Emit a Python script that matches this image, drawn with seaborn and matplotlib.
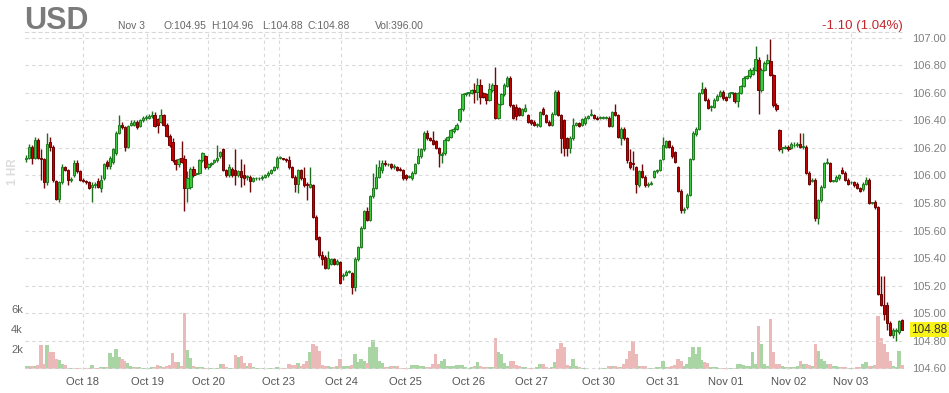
import numpy as np
import pandas as pd
import matplotlib
matplotlib.use("Agg")
import matplotlib.pyplot as plt
import seaborn as sns

# ---------------- data (hourly candles, USD index) ----------------
opens = [
    106.12, 106.13, 106.21, 106.13, 106.26, 106.13, 106.12, 105.95, 106.24, 106.21,
    105.96, 105.83, 105.95, 106.06, 106.04, 105.97, 106.00, 106.09, 106.03, 105.97,
    105.96, 105.95, 105.92, 105.93, 105.96, 105.91, 105.98, 106.10, 106.07, 106.10,
    106.16, 106.31, 106.37, 106.35, 106.21, 106.37, 106.37, 106.39, 106.36, 106.40,
    106.42, 106.42, 106.43, 106.44, 106.41, 106.39, 106.44, 106.37, 106.29, 106.24,
    106.11, 106.08, 106.13, 106.12, 105.91, 105.92, 106.05, 106.01, 106.02, 106.11,
    106.14, 106.06, 106.08, 106.10, 106.11,
    106.14, 106.19, 106.04, 106.00, 106.05, 106.04, 106.00, 106.03, 106.00, 105.99,
    105.99, 105.96, 105.98, 105.98, 105.98, 105.99, 106.00, 106.02, 106.04, 106.06,
    106.13, 106.13, 106.12, 106.11, 106.06, 105.99, 105.94, 106.04, 105.98, 105.94, 105.92, 105.93, 105.70,
    105.55, 105.42, 105.41, 105.33, 105.36, 105.39, 105.36, 105.37, 105.27, 105.28, 105.30, 105.29,
    105.19, 105.39, 105.48, 105.62, 105.74, 105.68, 105.85, 105.91, 105.99, 106.04,
    106.09, 106.08, 106.08, 106.06, 106.06, 106.05, 106.04, 106.00, 105.99, 105.98,
    106.02, 106.09, 106.14, 106.19, 106.31, 106.27, 106.26, 106.25, 106.20, 106.15,
    106.16, 106.26, 106.28, 106.32, 106.34, 106.40,
    106.48, 106.59, 106.60, 106.60, 106.62, 106.61, 106.66, 106.60, 106.59, 106.55,
    106.62, 106.66, 106.42, 106.52, 106.59, 106.65, 106.71, 106.51, 106.50, 106.49,
    106.44, 106.47, 106.44, 106.40, 106.39, 106.37, 106.36, 106.48, 106.44, 106.39,
    106.37, 106.45, 106.61, 106.44, 106.40, 106.27, 106.20, 106.27, 106.37, 106.38,
    106.37, 106.38, 106.42, 106.44, 106.44, 106.42, 106.42, 106.42,
    106.42, 106.42, 106.36, 106.46, 106.44, 106.27, 106.34, 106.27, 106.10, 106.09,
    106.06, 105.93, 106.03, 105.99, 105.93, 105.94, 105.99, 106.03, 106.04, 106.12,
    106.21, 106.25, 106.21, 106.17, 106.06, 105.89, 105.75, 105.77, 105.86, 106.12,
    106.30, 106.34, 106.60, 106.63, 106.55, 106.50, 106.50, 106.55, 106.58, 106.61,
    106.57, 106.57, 106.60, 106.60, 106.54, 106.60, 106.65, 106.71, 106.72,
    106.74, 106.77, 106.84, 106.62, 106.77, 106.82, 106.83, 106.73, 106.51, 106.33,
    106.20, 106.20, 106.21, 106.20, 106.22, 106.22, 106.23, 106.21, 106.21, 106.02,
    105.96, 105.97, 105.69, 105.82, 105.92, 106.09, 106.09, 105.96, 105.96, 105.98,
    106.04, 106.02, 105.97, 105.95, 105.95, 105.94, 105.91, 105.90, 105.94, 105.97,
    105.80, 105.81, 105.77, 105.14, 105.06, 105.06, 104.93, 104.84, 104.87, 104.86, 104.95,
]
highs = [
    106.15, 106.23, 106.22, 106.28, 106.27, 106.19, 106.13, 106.31, 106.28, 106.22,
    105.97, 105.96, 106.08, 106.07, 106.05, 105.99, 106.11, 106.11, 106.04, 105.98,
    105.97, 105.96, 105.95, 105.95, 105.98, 106.00, 106.09, 106.11, 106.14, 106.20,
    106.32, 106.44, 106.39, 106.36, 106.37, 106.40, 106.40, 106.40, 106.41, 106.43,
    106.44, 106.45, 106.47, 106.46, 106.42, 106.48, 106.45, 106.38, 106.30, 106.27,
    106.12, 106.13, 106.25, 106.15, 106.03, 106.06, 106.07, 106.02, 106.12, 106.17,
    106.15, 106.09, 106.10, 106.12, 106.22,
    106.18, 106.20, 106.05, 106.08, 106.06, 106.19, 106.04, 106.12, 106.08, 106.00,
    106.00, 105.99, 105.99, 105.99, 106.00, 106.01, 106.03, 106.05, 106.07, 106.14,
    106.14, 106.13, 106.13, 106.14, 106.07, 106.00, 106.05, 106.05, 106.06, 105.95, 106.06, 105.94, 105.71,
    105.56, 105.45, 105.42, 105.45, 105.40, 105.40, 105.39, 105.38, 105.29, 105.31, 105.31, 105.30,
    105.41, 105.49, 105.63, 105.75, 105.77, 105.86, 106.02, 106.08, 106.11, 106.11,
    106.11, 106.09, 106.09, 106.08, 106.07, 106.06, 106.05, 106.01, 106.00, 106.03,
    106.09, 106.20, 106.20, 106.32, 106.33, 106.28, 106.32, 106.26, 106.21, 106.17,
    106.27, 106.29, 106.34, 106.35, 106.38, 106.49,
    106.60, 106.61, 106.61, 106.63, 106.67, 106.71, 106.70, 106.61, 106.60, 106.67,
    106.67, 106.79, 106.53, 106.60, 106.67, 106.72, 106.72, 106.52, 106.52, 106.50,
    106.49, 106.52, 106.45, 106.41, 106.40, 106.38, 106.47, 106.50, 106.45, 106.40,
    106.46, 106.62, 106.62, 106.45, 106.41, 106.28, 106.29, 106.42, 106.39, 106.39,
    106.42, 106.43, 106.44, 106.48, 106.45, 106.43, 106.43, 106.43,
    106.43, 106.43, 106.47, 106.52, 106.45, 106.35, 106.35, 106.28, 106.19, 106.18,
    106.07, 106.04, 106.08, 106.00, 105.95, 105.96, 106.04, 106.05, 106.12, 106.28,
    106.26, 106.26, 106.22, 106.18, 106.07, 105.90, 105.77, 105.87, 106.13, 106.32,
    106.35, 106.61, 106.68, 106.64, 106.56, 106.51, 106.56, 106.59, 106.62, 106.62,
    106.58, 106.61, 106.61, 106.61, 106.61, 106.66, 106.72, 106.73, 106.78,
    106.79, 106.94, 106.86, 106.78, 106.83, 106.88, 106.99, 106.74, 106.53, 106.34,
    106.21, 106.22, 106.22, 106.24, 106.24, 106.24, 106.31, 106.31, 106.22, 106.03,
    105.98, 105.98, 105.83, 105.93, 106.10, 106.13, 106.10, 105.97, 106.00, 106.01,
    106.06, 106.03, 105.98, 105.96, 105.96, 105.95, 105.92, 105.95, 105.99, 105.98,
    105.81, 105.82, 105.78, 105.27, 105.27, 105.08, 104.94, 104.89, 104.89, 104.95, 104.96,
]
lows = [
    106.10, 106.12, 106.08, 106.12, 106.12, 105.97, 105.91, 105.93, 106.18, 105.95,
    105.82, 105.81, 105.94, 106.03, 105.93, 105.95, 105.99, 106.02, 105.96, 105.95,
    105.94, 105.90, 105.81, 105.91, 105.91, 105.88, 105.97, 106.05, 106.05, 106.08,
    106.15, 106.30, 106.34, 106.18, 106.20, 106.36, 106.36, 106.34, 106.35, 106.39,
    106.40, 106.41, 106.42, 106.35, 106.31, 106.38, 106.36, 106.28, 106.21, 106.10,
    106.04, 106.06, 106.09, 105.74, 105.81, 105.90, 105.99, 106.00, 106.01, 106.10,
    106.05, 106.05, 106.07, 106.09, 106.10,
    106.13, 106.03, 105.99, 105.99, 105.99, 105.93, 105.99, 105.92, 105.93, 105.97,
    105.88, 105.95, 105.97, 105.97, 105.97, 105.98, 105.99, 106.01, 106.03, 106.05,
    106.12, 106.11, 106.10, 106.05, 105.98, 105.88, 105.87, 105.97, 105.92, 105.82, 105.91, 105.69, 105.53,
    105.41, 105.35, 105.32, 105.32, 105.35, 105.35, 105.35, 105.21, 105.24, 105.27, 105.29, 105.14,
    105.16, 105.38, 105.47, 105.61, 105.67, 105.67, 105.84, 105.90, 105.98, 106.02,
    106.07, 106.07, 106.05, 106.05, 106.03, 106.03, 105.97, 105.97, 105.98, 105.97,
    106.01, 106.08, 106.13, 106.18, 106.26, 106.25, 106.22, 106.19, 106.06, 106.09,
    106.15, 106.25, 106.27, 106.31, 106.33, 106.39,
    106.47, 106.58, 106.58, 106.59, 106.53, 106.55, 106.52, 106.56, 106.52, 106.54,
    106.61, 106.41, 106.41, 106.51, 106.58, 106.64, 106.50, 106.41, 106.40, 106.43,
    106.43, 106.46, 106.38, 106.37, 106.36, 106.35, 106.35, 106.44, 106.38, 106.36,
    106.36, 106.44, 106.43, 106.16, 106.14, 106.14, 106.16, 106.26, 106.36, 106.35,
    106.36, 106.37, 106.41, 106.43, 106.41, 106.40, 106.41, 106.41,
    106.41, 106.35, 106.35, 106.43, 106.27, 106.22, 106.26, 106.09, 106.05, 106.04,
    105.87, 105.92, 105.98, 105.92, 105.92, 105.93, 105.98, 106.02, 106.03, 106.11,
    106.20, 106.20, 106.13, 106.09, 105.88, 105.73, 105.73, 105.76, 105.85, 106.11,
    106.29, 106.33, 106.59, 106.54, 106.48, 106.47, 106.49, 106.54, 106.57, 106.55,
    106.54, 106.56, 106.59, 106.53, 106.50, 106.59, 106.64, 106.70, 106.71,
    106.73, 106.76, 106.45, 106.61, 106.76, 106.81, 106.72, 106.50, 106.47, 106.18,
    106.16, 106.19, 106.18, 106.19, 106.21, 106.21, 106.20, 106.19, 106.01, 105.93,
    105.95, 105.67, 105.65, 105.81, 105.91, 106.08, 105.95, 105.95, 105.95, 105.97,
    106.01, 105.96, 105.93, 105.94, 105.92, 105.90, 105.88, 105.89, 105.93, 105.79,
    105.79, 105.76, 105.13, 105.05, 104.95, 104.88, 104.83, 104.82, 104.80, 104.85, 104.88,
]
closes = [
    106.13, 106.21, 106.13, 106.26, 106.13, 106.12, 105.95, 106.23, 106.21, 105.97,
    105.83, 105.95, 106.06, 106.04, 105.97, 105.97, 106.09, 106.03, 105.97, 105.96,
    105.95, 105.91, 105.93, 105.93, 105.92, 105.97, 106.08, 106.07, 106.13, 106.19,
    106.31, 106.37, 106.35, 106.21, 106.36, 106.38, 106.39, 106.35, 106.40, 106.42,
    106.42, 106.43, 106.44, 106.36, 106.37, 106.44, 106.37, 106.29, 106.22, 106.11,
    106.08, 106.12, 106.10, 105.91, 105.98, 106.05, 106.00, 106.01, 106.11, 106.16,
    106.06, 106.08, 106.09, 106.11, 106.13,
    106.17, 106.04, 106.00, 106.06, 106.00, 106.00, 106.03, 105.99, 105.98, 105.99,
    105.96, 105.98, 105.98, 105.98, 105.99, 106.00, 106.02, 106.04, 106.06, 106.13,
    106.13, 106.12, 106.11, 106.06, 105.99, 105.94, 106.04, 105.98, 105.93, 105.93, 105.94, 105.70, 105.54,
    105.42, 105.39, 105.33, 105.40, 105.39, 105.36, 105.38, 105.22, 105.28, 105.30, 105.30, 105.19,
    105.39, 105.48, 105.62, 105.74, 105.68, 105.85, 105.91, 105.99, 106.06, 106.09,
    106.08, 106.08, 106.06, 106.07, 106.04, 106.04, 105.98, 105.98, 105.99, 106.02,
    106.08, 106.14, 106.19, 106.31, 106.27, 106.26, 106.23, 106.20, 106.16, 106.15,
    106.26, 106.28, 106.33, 106.34, 106.37, 106.48,
    106.59, 106.60, 106.60, 106.62, 106.61, 106.66, 106.57, 106.57, 106.55, 106.63,
    106.66, 106.42, 106.52, 106.59, 106.66, 106.71, 106.51, 106.42, 106.43, 106.44,
    106.48, 106.49, 106.39, 106.38, 106.37, 106.37, 106.46, 106.45, 106.39, 106.37,
    106.45, 106.61, 106.44, 106.27, 106.20, 106.20, 106.27, 106.37, 106.38, 106.36,
    106.41, 106.42, 106.43, 106.45, 106.42, 106.41, 106.42, 106.42,
    106.42, 106.36, 106.46, 106.44, 106.28, 106.34, 106.27, 106.11, 106.06, 106.08,
    105.94, 106.03, 105.99, 105.93, 105.93, 105.94, 106.03, 106.04, 106.11, 106.22,
    106.25, 106.21, 106.14, 106.10, 105.89, 105.75, 105.75, 105.86, 106.12, 106.31,
    106.34, 106.60, 106.63, 106.55, 106.49, 106.50, 106.55, 106.58, 106.61, 106.56,
    106.55, 106.60, 106.60, 106.54, 106.60, 106.65, 106.71, 106.72, 106.77,
    106.77, 106.85, 106.62, 106.77, 106.82, 106.84, 106.73, 106.51, 106.48, 106.19,
    106.20, 106.21, 106.19, 106.23, 106.22, 106.23, 106.21, 106.21, 106.02, 105.94,
    105.97, 105.69, 105.82, 105.92, 106.09, 106.10, 105.96, 105.96, 105.99, 106.00,
    106.02, 105.97, 105.94, 105.95, 105.93, 105.91, 105.89, 105.94, 105.97, 105.80,
    105.80, 105.77, 105.14, 105.06, 104.99, 104.93, 104.84, 104.88, 104.88, 104.94, 104.88,
]
volumes = [
    300, 300, 300, 300, 400, 2400, 500, 2400, 1700, 1700,
    1000, 900, 500, 400, 100, 100, 100, 100, 100, 50,
    100, 100, 400, 100, 100, 200, 200, 200, 1600, 1200,
    2000, 1200, 1000, 800, 600, 300, 200, 200, 200, 100,
    100, 100, 200, 200, 400, 300, 200, 300, 400, 1600,
    700, 700, 300, 5600, 1900, 1100, 300, 200, 200, 200,
    100, 100, 100, 100, 100,
    500, 500, 200, 100, 100, 1400, 1200, 1300, 600, 300,
    600, 200, 100, 100, 100, 50, 100, 100, 100, 200,
    100, 100, 100, 500, 400, 400, 600, 300, 500, 800, 1700, 2500, 2300,
    1800, 400, 300, 300, 200, 200, 300, 1000, 300, 300, 300, 400,
    1500, 700, 1000, 800, 600, 2200, 2900, 2200, 800, 600,
    200, 200, 300, 300, 300, 100, 100, 100, 100, 400,
    400, 400, 300, 300, 200, 200, 500, 1500, 500, 800,
    1000, 300, 300, 300, 400, 400,
    400, 200, 100, 200, 300, 700, 300, 200, 200, 200,
    200, 3100, 1700, 1500, 600, 300, 800, 800, 400, 300,
    200, 200, 100, 100, 100, 200, 500, 500, 200, 100,
    200, 700, 2000, 2600, 2200, 400, 300, 1000, 300, 200,
    100, 100, 50, 50, 50, 50, 100, 100,
    100, 300, 300, 300, 200, 200, 500, 1000, 1800, 2800,
    1500, 300, 300, 300, 100, 100, 100, 200, 200, 800,
    200, 200, 300, 400, 1000, 800, 300, 500, 1200, 2200,
    1500, 2200, 900, 700, 600, 200, 200, 200, 100, 100,
    100, 100, 100, 100, 500, 500, 400, 300, 300,
    1700, 500, 4300, 2500, 500, 300, 5000, 1700, 500, 500,
    300, 200, 200, 200, 200, 300, 800, 500, 500, 400,
    300, 2500, 1800, 1000, 800, 500, 500, 300, 300, 200,
    200, 200, 100, 100, 100, 200, 200, 500, 700, 300,
    300, 400, 5300, 3100, 2500, 1700, 800, 300, 200, 1800, 396,
]
day_labels = ["Oct 18", "Oct 19", "Oct 20", "Oct 23", "Oct 24", "Oct 25", "Oct 26",
              "Oct 27", "Oct 30", "Oct 31", "Nov 01", "Nov 02", "Nov 03"]
day_starts = [19, 40.5, 61, 84.5, 105.5, 127, 148, 169, 191.5, 213, 234, 255, 276]
weekend_starts = [79.5, 186.5]
price_ticks = [104.60, 104.80, 105.00, 105.20, 105.40, 105.60, 105.80,
               106.00, 106.20, 106.40, 106.60, 106.80, 107.00]
vol_ticks = [2000, 4000, 6000]
vol_tick_labels = ["2k", "4k", "6k"]
last_price = 104.88

# ---------------- style ----------------
sns.set_theme(style="white")
plt.rcParams["font.family"] = ["Liberation Sans", "DejaVu Sans"]

W, H = 949, 393
fig = plt.figure(figsize=(W / 100, H / 100), dpi=100)
fig.patch.set_facecolor("white")
rect = [25 / W, 1 - 370 / H, 880 / W, 338 / H]

o = np.array(opens); h = np.array(highs); l = np.array(lows); c = np.array(closes)
n = len(c)
idx = np.arange(n)
up = c >= o

grid_kw = dict(color="#d9d9d9", linestyle=(0, (3, 3)), linewidth=0.8)

# volume (bottom layer)
axv = fig.add_axes(rect)
df = pd.DataFrame({"i": idx, "vol": volumes, "dir": np.where(up, "up", "down")})
sns.barplot(data=df, x="i", y="vol", hue="dir",
            palette={"up": "#a3dc9c", "down": "#f5b0b0"},
            native_scale=True, errorbar=None, dodge=False, width=1.2,
            linewidth=0, legend=False, ax=axv)
axv.set_xlim(-0.35, n)
axv.set_ylim(-100, 33700)
axv.set_yticks(vol_ticks)
axv.set_yticklabels(vol_tick_labels)
axv.set_xticks(day_starts)
axv.set_xticklabels(day_labels)
axv.set_xticks(weekend_starts, minor=True)
axv.grid(axis="x", which="both", **grid_kw)
axv.grid(axis="y", visible=False)
axv.set_axisbelow(True)
axv.set_xlabel("")
axv.set_ylabel("")
axv.tick_params(axis="x", which="both", length=0, pad=5, labelsize=8, labelcolor="#555555")
axv.tick_params(axis="y", length=0, pad=1.5, labelsize=8, labelcolor="#666666")
for s in axv.spines.values():
    s.set_visible(False)

# price (top layer)
ax = axv.twinx()
ax.set_ylim(104.5855, 107.0436)
ax.set_yticks(price_ticks)
ax.yaxis.set_major_formatter("{x:.2f}")
ax.grid(axis="y", **grid_kw)
ax.set_axisbelow(True)
ax.tick_params(axis="y", length=0, pad=5, labelsize=8, labelcolor="#808080")
for name, s in ax.spines.items():
    s.set_visible(name == "top")
ax.spines["top"].set_linestyle((0, (3, 3)))
ax.spines["top"].set_color("#d9d9d9")
ax.spines["top"].set_linewidth(0.8)

wick_col = np.where(up, "#1f6e1f", "#6e0a0a")
body_col = np.where(up, "#3ccb3c", "#c30000")
edge_col = np.where(up, "#1f7a1f", "#6e0000")
ax.vlines(idx, l, h, colors=wick_col, linewidth=1.0, zorder=3)
body_h = np.maximum(np.abs(c - o), 0.005)
ax.bar(idx, body_h, bottom=np.minimum(o, c), width=0.74, color=body_col,
       edgecolor=edge_col, linewidth=0.7, zorder=4)
ax.set_xlim(-0.35, n)

# last price label
ax.annotate(f"{last_price:.2f}", xy=(1, last_price), xycoords=("axes fraction", "data"),
            xytext=(4.5, 0), textcoords="offset points", ha="left", va="center",
            fontsize=8.5, color="#333333", annotation_clip=False,
            bbox=dict(boxstyle="square,pad=0.12", fc="#f9f317", ec="none"))

# header texts
fig.text(24 / W, 1 - 29 / H, "USD", fontsize=22, fontweight="bold", color="#7b7b7b", va="baseline")
hdr_y = 1 - 29 / H
fig.text(118 / W, hdr_y, "Nov 3", fontsize=7.5, color="#666666", va="baseline")
fig.text(163 / W, hdr_y, "O:104.95", fontsize=7.5, color="#666666", va="baseline")
fig.text(211 / W, hdr_y, "H:104.96", fontsize=7.5, color="#666666", va="baseline")
fig.text(262 / W, hdr_y, "L:104.88", fontsize=7.5, color="#666666", va="baseline")
fig.text(308 / W, hdr_y, "C:104.88", fontsize=7.5, color="#666666", va="baseline")
fig.text(375 / W, hdr_y, "Vol:396.00", fontsize=7.5, color="#666666", va="baseline")
fig.text(903 / W, 1 - 29.5 / H, "-1.10 (1.04%)", fontsize=9.5, color="#c1272d",
         ha="right", va="baseline")
fig.text(13 / W, 1 - 172 / H, "1 HR", rotation=90, fontsize=8.5, fontweight="bold",
         color="#dddddd", ha="center", va="center")

fig.savefig("out.png", dpi=100)
